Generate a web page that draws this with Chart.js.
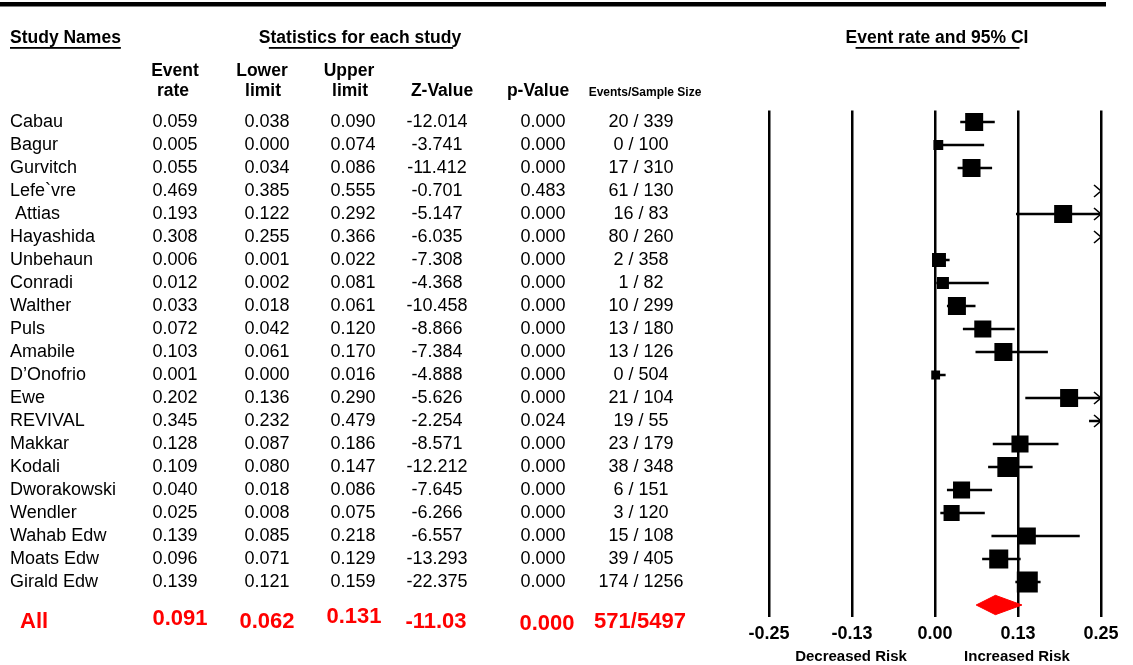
<!DOCTYPE html>
<html>
<head>
<meta charset="utf-8">
<title>Event rate forest plot</title>
<script src="https://cdn.jsdelivr.net/npm/chart.js@4.4.0/dist/chart.umd.min.js"></script>
<style>
  html, body { margin: 0; padding: 0; background: #fff; }
  #wrap { width: 1133px; height: 665px; }
</style>
</head>
<body>
<div id="wrap"><canvas id="myCanvas" width="1133" height="665"></canvas></div>
<script>
// study data
var studies = ["Cabau", "Bagur", "Gurvitch", "Lefe`vre", " Attias", "Hayashida", "Unbehaun", "Conradi", "Walther", "Puls",
  "Amabile", "D\u2019Onofrio", "Ewe", "REVIVAL", "Makkar", "Kodali", "Dworakowski", "Wendler", "Wahab Edw", "Moats Edw", "Girald Edw"];
var eventRate  = [0.059, 0.005, 0.055, 0.469, 0.193, 0.308, 0.006, 0.012, 0.033, 0.072, 0.103, 0.001, 0.202, 0.345, 0.128, 0.109, 0.040, 0.025, 0.139, 0.096, 0.139];
var lowerLimit = [0.038, 0.000, 0.034, 0.385, 0.122, 0.255, 0.001, 0.002, 0.018, 0.042, 0.061, 0.000, 0.136, 0.232, 0.087, 0.080, 0.018, 0.008, 0.085, 0.071, 0.121];
var upperLimit = [0.090, 0.074, 0.086, 0.555, 0.292, 0.366, 0.022, 0.081, 0.061, 0.120, 0.170, 0.016, 0.290, 0.479, 0.186, 0.147, 0.086, 0.075, 0.218, 0.129, 0.159];
var zValue = [-12.014, -3.741, -11.412, -0.701, -5.147, -6.035, -7.308, -4.368, -10.458, -8.866, -7.384, -4.888, -5.626, -2.254, -8.571, -12.212, -7.645, -6.266, -6.557, -13.293, -22.375];
var pValue = [0.000, 0.000, 0.000, 0.483, 0.000, 0.000, 0.000, 0.000, 0.000, 0.000, 0.000, 0.000, 0.000, 0.024, 0.000, 0.000, 0.000, 0.000, 0.000, 0.000, 0.000];
var eventsSample = ["20 / 339", "0 / 100", "17 / 310", "61 / 130", "16 / 83", "80 / 260", "2 / 358", "1 / 82", "10 / 299", "13 / 180",
  "13 / 126", "0 / 504", "21 / 104", "19 / 55", "23 / 179", "38 / 348", "6 / 151", "3 / 120", "15 / 108", "39 / 405", "174 / 1256"];
// relative weights (%)
var weights = [5.0, 1.5, 5.0, 5.0, 5.0, 5.6, 3.0, 2.2, 5.0, 4.5, 5.0, 1.2, 5.0, 4.5, 4.5, 6.2, 4.5, 4.0, 4.5, 5.6, 6.8];

// pooled result
var overallRate = 0.091;
var overallLower = 0.062;
var overallUpper = 0.131;
var overallZ = -11.03;
var overallP = 0.000;
var overallEvents = "571/5497";

// axis
var tickValues = [-0.25, -0.125, 0, 0.125, 0.25];
var tickLabels = ["-0.25", "-0.13", "0.00", "0.13", "0.25"];
var xMin = -0.25, xMax = 0.25;

var summaryRow = studies.length; // diamond sits one row under the last study
var FONT = '"Liberation Sans", Arial, sans-serif';

// little ">" used where the interval runs off the right side
var arrowImg = document.createElement("canvas");
arrowImg.width = 24;
arrowImg.height = 16;
var actx = arrowImg.getContext("2d");
actx.strokeStyle = "#000";
actx.lineWidth = 1.6;
actx.beginPath();
actx.moveTo(5, 2);
actx.lineTo(12, 8);
actx.lineTo(5, 14);
actx.stroke();

var datasets = [];

// boxes
datasets.push({
  type: "scatter",
  data: eventRate.map(function (v, i) { return { x: v, y: i }; }),
  pointStyle: "rect",
  pointRadius: weights.map(function (w) { return Math.sqrt(w * 64.8) / Math.SQRT2; }),
  pointHoverRadius: weights.map(function (w) { return Math.sqrt(w * 64.8) / Math.SQRT2; }),
  backgroundColor: "#000",
  borderWidth: 0,
  order: 0
});

// confidence intervals
studies.forEach(function (s, i) {
  datasets.push({
    type: "line",
    data: [{ x: lowerLimit[i], y: i }, { x: upperLimit[i], y: i }],
    borderColor: "#000",
    borderWidth: 2.6,
    pointRadius: 0,
    order: 2
  });
});

// arrows for intervals beyond the axis
var offRows = [];
upperLimit.forEach(function (u, i) { if (u > xMax) offRows.push(i); });
datasets.push({
  type: "scatter",
  data: offRows.map(function (i) { return { x: xMax, y: i }; }),
  pointStyle: arrowImg,
  pointRadius: 8,
  clip: false,
  order: 1
});

// pooled diamond
datasets.push({
  type: "line",
  data: [
    { x: overallLower, y: summaryRow },
    { x: overallRate, y: summaryRow - 0.42 },
    { x: overallUpper, y: summaryRow },
    { x: overallRate, y: summaryRow + 0.42 },
    { x: overallLower, y: summaryRow }
  ],
  borderColor: "#ff0000",
  backgroundColor: "#ff0000",
  borderWidth: 1,
  pointRadius: 0,
  tension: 0,
  fill: "shape",
  order: 1
});

function underlined(ctx, text, x, y, insetL, insetR) {
  ctx.fillText(text, x, y);
  var w = ctx.measureText(text).width;
  var left = ctx.textAlign === "center" ? x - w / 2 : x;
  ctx.fillRect(left + insetL, y + 9, w - insetL - insetR, 1.8);
}

var tablePlugin = {
  id: "studyTable",
  beforeDraw: function (chart) {
    var c = chart.ctx;
    c.save();
    c.fillStyle = "#fff";
    c.fillRect(0, 0, chart.width, chart.height);
    c.restore();
  },
  afterDraw: function (chart) {
    var ctx = chart.ctx;
    var yScale = chart.scales.y;
    ctx.save();
    ctx.fillStyle = "#000";
    ctx.fillRect(0, 2, 1106, 4.5);

    ctx.textBaseline = "middle";
    ctx.font = "bold 17.5px " + FONT;
    ctx.textAlign = "left";
    underlined(ctx, "Study Names", 10, 38, 0, 0);
    ctx.textAlign = "center";
    underlined(ctx, "Statistics for each study", 360, 38, 10, 8);
    underlined(ctx, "Event rate and 95% CI", 937, 38, 10, 9);

    ctx.font = "bold 17.5px " + FONT;
    ctx.fillText("Event", 175, 71);
    ctx.fillText("rate", 173, 91);
    ctx.fillText("Lower", 262, 71);
    ctx.fillText("limit", 263, 91);
    ctx.fillText("Upper", 349, 71);
    ctx.fillText("limit", 350, 91);
    ctx.fillText("Z-Value", 442, 91);
    ctx.fillText("p-Value", 538, 91);
    ctx.font = "bold 12px " + FONT;
    ctx.fillText("Events/Sample Size", 645, 93);

    // study rows
    var colX = [175, 267, 353, 437, 543, 641];
    ctx.font = "18px " + FONT;
    studies.forEach(function (name, i) {
      var y = yScale.getPixelForValue(i);
      ctx.textAlign = "left";
      ctx.fillText(name, 10, y);
      ctx.textAlign = "center";
      ctx.fillText(eventRate[i].toFixed(3), colX[0], y);
      ctx.fillText(lowerLimit[i].toFixed(3), colX[1], y);
      ctx.fillText(upperLimit[i].toFixed(3), colX[2], y);
      ctx.fillText(zValue[i].toFixed(3), colX[3], y);
      ctx.fillText(pValue[i].toFixed(3), colX[4], y);
      ctx.fillText(eventsSample[i], colX[5], y);
    });

    // pooled row
    ctx.fillStyle = "#ff0000";
    ctx.font = "bold 22px " + FONT;
    ctx.textAlign = "left";
    ctx.fillText("All", 20, 622);
    ctx.textAlign = "center";
    ctx.fillText(overallRate.toFixed(3), 180, 619);
    ctx.fillText(overallLower.toFixed(3), 267, 622);
    ctx.fillText(overallUpper.toFixed(3), 354, 617);
    ctx.fillText(overallZ.toFixed(2), 436, 622);
    ctx.fillText(overallP.toFixed(3), 547, 624);
    ctx.fillText(overallEvents, 640, 622);

    // risk captions under the axis
    ctx.fillStyle = "#000";
    ctx.font = "bold 15px " + FONT;
    ctx.fillText("Decreased Risk", 851, 657);
    ctx.fillText("Increased Risk", 1017, 657);
    ctx.restore();
  }
};

var myChart = document.getElementById("myCanvas").getContext("2d");
var chart = new Chart(myChart, {
  type: "scatter",
  data: { datasets: datasets },
  options: {
    responsive: false,
    animation: false,
    events: [],
    layout: { padding: { left: 769, right: 32, top: 110.5, bottom: 18.5 } },
    plugins: {
      legend: { display: false },
      tooltip: { enabled: false }
    },
    scales: {
      x: {
        type: "linear",
        min: xMin,
        max: xMax,
        afterBuildTicks: function (axis) {
          axis.ticks = tickValues.map(function (v) { return { value: v }; });
        },
        afterFit: function (axis) { axis.height = 30; },
        ticks: {
          color: "#000",
          font: { family: FONT, size: 18, weight: "bold" },
          padding: 7,
          maxRotation: 0,
          callback: function (v, i) { return tickLabels[i]; }
        },
        grid: { color: "#000", lineWidth: 2.5, drawTicks: false },
        border: { display: false }
      },
      y: {
        type: "linear",
        display: false,
        reverse: true,
        min: -0.5,
        max: summaryRow + 0.5
      }
    }
  },
  plugins: [tablePlugin]
});
</script>
</body>
</html>
